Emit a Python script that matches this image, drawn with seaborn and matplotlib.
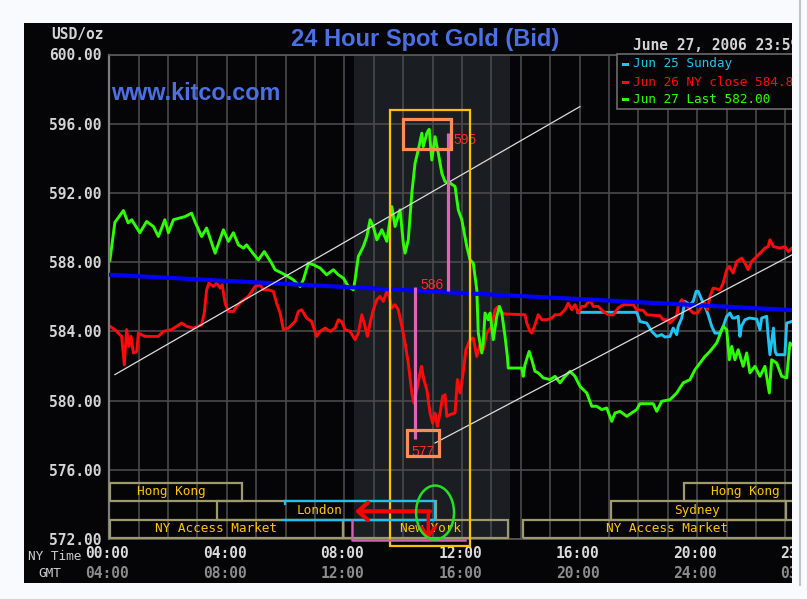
import numpy as np
import pandas as pd
import matplotlib
matplotlib.use("Agg")
import matplotlib.pyplot as plt
import matplotlib.transforms as mtrans
from matplotlib.patches import Rectangle, Ellipse
from matplotlib.lines import Line2D
import seaborn as sns

# ---------------- data (NY time in hours, price in USD/oz) ----------------
green_h = [0.02,0.19,0.48,0.64,0.76,1.04,1.27,1.50,1.67,1.89,
           2.01,2.18,2.57,2.80,2.91,3.14,3.31,3.60,3.88,4.05,
           4.22,4.39,4.56,4.67,4.84,5.07,5.27,5.52,5.64,5.98,
           6.26,6.49,6.60,6.77,6.94,7.17,7.39,7.62,7.79,7.96,
           8.13,8.30,8.36,8.47,8.64,8.76,8.87,8.98,9.10,9.27,
           9.44,9.61,9.72,9.89,10.00,10.06,10.17,10.29,10.40,10.51,
           10.63,10.68,10.80,10.88,10.97,11.08,11.19,11.31,11.42,11.59,
           11.76,11.87,11.99,12.16,12.27,12.38,12.50,12.55,12.67,12.72,
           12.78,12.89,12.95,13.06,13.18,13.27,13.35,13.46,13.54,13.57,
           14.03,14.08,14.14,14.28,14.37,14.48,14.59,14.76,14.99,15.16,
           15.33,15.50,15.67,15.84,16.01,16.24,16.41,16.58,16.75,16.92,
           17.09,17.20,17.37,17.60,17.94,18.05,18.50,18.62,18.79,19.07,
           19.30,19.52,19.75,19.92,20.09,20.26,20.43,20.66,20.88,21.00,
           21.09,21.17,21.28,21.39,21.56,21.68,21.79,21.96,22.13,22.30,
           22.45,22.53,22.70,22.87,23.04,23.15,23.40]
green_p = [588.1,590.3,590.98,590.27,590.45,589.7,590.35,590.06,589.48,590.45,
           589.7,590.45,590.63,590.83,590.35,589.48,589.97,588.52,589.87,589.2,
           589.7,589.0,588.81,589.0,588.61,588.13,588.61,587.94,587.56,587.27,
           586.98,586.59,586.98,587.94,587.85,587.66,587.27,587.56,587.27,587.08,
           586.59,586.4,586.98,588.33,588.9,589.48,590.45,590.06,589.29,589.87,
           589.2,591.21,590.06,591.02,589.1,588.52,589.29,591.99,593.72,594.49,
           595.45,594.68,595.45,595.68,593.9,595.25,594.3,593.14,592.66,592.57,
           592.37,591.02,590.45,588.9,588.13,587.94,586.4,583.9,582.75,583.33,
           585.06,584.67,585.06,583.52,584.87,585.44,585.06,583.71,582.55,581.88,
           581.88,581.4,582.07,582.84,582.36,581.69,581.6,581.31,581.21,581.4,
           581.02,581.4,581.69,581.4,580.82,580.44,579.67,579.67,579.48,579.57,
           578.8,579.28,579.38,579.09,579.48,579.82,579.82,579.38,579.96,580.05,
           580.44,581.02,581.21,581.78,582.17,582.55,582.84,583.33,584.29,584.1,
           582.36,583.13,582.36,582.94,581.98,582.75,581.6,581.98,581.4,581.98,
           580.44,582.36,582.17,581.4,581.31,583.33,582.9]

red_h = [0.02,0.19,0.31,0.42,0.51,0.59,0.67,0.74,0.82,0.93,
         0.99,1.21,1.67,1.84,2.12,2.29,2.46,2.63,2.86,3.14,
         3.23,3.31,3.39,3.54,3.65,3.77,3.84,3.94,4.05,4.22,
         4.33,4.50,4.73,4.96,5.13,5.24,5.41,5.58,5.69,5.81,
         5.92,6.09,6.32,6.43,6.54,6.71,6.88,7.05,7.17,7.34,
         7.51,7.68,7.79,7.90,8.02,8.19,8.36,8.47,8.59,8.67,
         8.78,8.87,8.98,9.10,9.21,9.32,9.44,9.52,9.61,9.72,
         9.83,9.95,10.06,10.17,10.29,10.36,10.46,10.57,10.62,10.70,
         10.80,10.91,11.00,11.08,11.16,11.25,11.34,11.42,11.48,11.59,
         11.76,11.84,11.93,12.02,12.13,12.27,12.38,12.50,12.61,12.72,
         12.84,13.01,13.12,13.23,13.35,13.49,14.14,14.20,14.31,14.37,
         14.48,14.59,14.71,14.88,15.05,15.16,15.33,15.50,15.61,15.73,
         15.84,15.95,16.07,16.18,16.35,16.46,16.63,16.80,16.97,17.14,
         17.31,17.48,17.82,17.94,18.16,18.28,18.73,18.84,19.01,19.07,
         19.18,19.30,19.35,19.47,19.58,19.75,19.86,20.00,20.12,20.26,
         20.34,20.43,20.54,20.77,20.88,21.00,21.09,21.22,21.34,21.51,
         21.62,21.73,21.85,22.02,22.19,22.30,22.41,22.47,22.59,22.81,
         22.98,23.10,23.21,23.40]
red_p = [584.29,584.1,583.9,583.71,582.07,584.1,583.13,583.71,582.75,582.84,
         583.9,583.71,583.71,584.0,584.1,584.29,584.48,584.29,584.19,584.38,
         585.06,586.4,586.79,586.59,586.79,586.5,586.69,585.63,585.15,585.15,
         585.44,585.73,586.02,586.59,586.69,586.4,586.4,586.31,585.63,585.06,
         584.1,584.19,584.57,585.15,585.25,584.77,584.57,583.71,584.0,584.19,
         584.0,584.19,584.67,584.57,584.1,584.0,583.52,583.9,584.96,584.48,
         583.71,584.48,585.25,585.83,586.02,585.73,586.31,586.02,585.35,585.54,
         585.25,584.29,583.33,582.17,580.44,579.86,580.63,581.6,581.98,581.21,
         580.63,579.28,578.7,579.28,578.51,579.28,580.25,580.34,579.09,579.19,
         579.28,581.21,580.44,581.4,582.94,583.52,583.61,582.55,583.23,582.94,
         583.9,584.29,585.25,585.44,585.06,585.0,584.96,584.48,584.0,583.9,
         584.38,584.96,584.67,584.67,584.77,584.96,584.96,585.25,585.63,585.25,
         585.54,585.06,585.44,585.44,585.83,585.44,585.44,585.15,584.96,584.96,
         585.35,585.54,585.54,585.25,585.21,584.96,584.9,584.67,584.67,584.48,
         584.67,584.9,585.44,585.83,585.63,585.25,585.06,585.06,585.35,585.63,
         585.25,586.02,586.5,586.4,586.79,587.56,587.75,587.37,588.04,588.23,
         587.94,587.56,588.04,588.33,588.61,588.81,588.9,589.29,588.9,588.81,
         588.9,588.61,588.81,588.8]

cyan_h = [15.94,17.03,17.94,18.05,18.28,18.45,18.62,18.79,18.90,19.07,
          19.18,19.30,19.35,19.47,19.58,19.75,19.86,19.96,20.03,20.15,
          20.26,20.37,20.49,20.60,20.77,20.88,21.00,21.11,21.20,21.28,
          21.39,21.45,21.50,21.62,21.77,22.02,22.13,22.19,22.36,22.41,
          22.47,22.59,22.65,22.70,22.98,23.04,23.21,23.40]
cyan_p = [585.1,585.1,585.1,584.57,584.48,584.0,583.71,583.81,583.67,583.71,
          584.19,583.81,584.29,584.77,585.73,585.54,585.73,586.31,586.31,585.83,
          585.44,584.96,584.29,583.9,583.9,584.29,584.87,585.06,584.77,584.77,
          584.87,583.71,584.29,584.67,584.77,584.71,584.1,584.77,584.87,583.71,
          582.65,584.19,582.84,582.65,582.65,584.48,584.57,584.6]

blue_h = [0.0, 24.0]
blue_p = [587.27, 585.16]

series_labels = ["Jun 25 Sunday", "Jun 26 NY close 584.80", "Jun 27 Last 582.00"]

y_ticks = [572, 576, 580, 584, 588, 592, 596, 600]
ny_tick_hours = [0, 4, 8, 12, 16, 20]
ny_tick_labels = ["00:00", "04:00", "08:00", "12:00", "16:00", "20:00"]
gmt_tick_labels = ["04:00", "08:00", "12:00", "16:00", "20:00", "24:00"]

session_names = ["Hong Kong", "London", "NY Access Market", "New York",
                 "NY Access Market", "Sydney", "Hong Kong"]
session_start = [0.03, 3.65, 0.03, 7.96, 14.08, 17.06, 19.56]
session_end = [4.52, 11.1, 7.96, 13.57, 24.0, 23.02, 24.0]
session_row = [0, 1, 2, 2, 2, 1, 0]
session_label_h = [2.12, 7.15, 3.63, 10.94, 18.97, 19.98, 21.64]

# ---------------- figure ----------------
W, H = 807, 599
BG = '#f9fafe'
BLACK = '#050507'
fig = plt.figure(figsize=(W / 100, H / 100), dpi=100, facecolor=BG)

def fx(x):
    return x / W

def fy(y):
    return 1 - y / H

fig.add_artist(Rectangle((fx(24), fy(583)), (792 - 24) / W, (583 - 23) / H,
                         transform=fig.transFigure, facecolor=BLACK,
                         edgecolor='none', zorder=-10))

X0, PXH = 109.3, 29.4
ax = fig.add_axes([fx(X0), fy(539), 24 * PXH / W, (539 - 54.5) / H])
ax.set_facecolor(BLACK)

# shaded band
ax.axvspan(8.34, 13.63, color='#1a1d22', zorder=0.2, lw=0)

GREEN = '#2cff00'
RED = '#ff0a0a'
CYAN = '#1ec4f2'

sns.lineplot(x=cyan_h, y=cyan_p, ax=ax, color=CYAN, linewidth=2.1,
             estimator=None, sort=False, zorder=2)
sns.lineplot(x=red_h, y=red_p, ax=ax, color=RED, linewidth=2.1,
             estimator=None, sort=False, zorder=2.1)
sns.lineplot(x=green_h, y=green_p, ax=ax, color=GREEN, linewidth=2.1,
             estimator=None, sort=False, zorder=2.2)
sns.lineplot(x=blue_h, y=blue_p, ax=ax, color='#0000ff', linewidth=3.0,
             estimator=None, sort=False, zorder=3)

# trend channel lines (annotations)
ax.plot([0.19, 16.01], [581.5, 596.99], color='#dcdcdc', lw=0.9, zorder=4)
ax.plot([11.08, 24.0], [577.55, 589.12], color='#dcdcdc', lw=0.9, zorder=4)

ax.set_xlim(0, 24)
ax.set_ylim(572, 600)
ax.set_xlabel('')
ax.set_ylabel('')
ax.set_xticks(np.arange(0, 25, 1))
ax.tick_params(axis='x', length=0, labelbottom=False)
ax.set_yticks(y_ticks, labels=[f'{v:.2f}' for v in y_ticks],
              fontfamily='DejaVu Sans Mono', fontweight='bold',
              fontsize=10.5, color='#d4d4d4')
ax.tick_params(axis='y', length=0, pad=5.3)
ax.grid(True, color='#4a4a4a', linewidth=1.2)
ax.set_axisbelow(True)
for s in ['right']:
    ax.spines[s].set_visible(False)
ax.spines['left'].set_color('#7c7c7c')
ax.spines['left'].set_linewidth(1.6)
ax.spines['top'].set_color('#5a5a5a')
ax.spines['top'].set_linewidth(1.2)
ax.spines['bottom'].set_color('#5a5a5a')
ax.spines['bottom'].set_linewidth(1.2)

# market session bars
row_bounds = [(574.2, 575.25), (573.12, 574.2), (572.06, 573.12)]
for name, s, e, r, lh in zip(session_names, session_start, session_end,
                             session_row, session_label_h):
    lo, hi = row_bounds[r]
    ax.add_patch(Rectangle((s, lo), e - s, hi - lo, fill=False,
                           edgecolor='#9e9a6c', lw=1.6, zorder=5, clip_on=False))
    ax.text(lh, (lo + hi) / 2, name, ha='center', va='center',
            family='DejaVu Sans Mono', fontsize=9.2, color='#ffc400', zorder=5.5)

# ---------------- hand-drawn annotations ----------------
ax.add_patch(Rectangle((9.55, 571.62), 12.27 - 9.55, 596.80 - 571.62, fill=False,
                       edgecolor='#ffc000', lw=1.6, clip_on=False, zorder=8))
ax.add_patch(Rectangle((10.0, 594.54), 1.62, 1.74, fill=False,
                       edgecolor='#ff8c55', lw=2.3, clip_on=False, zorder=8))
ax.add_patch(Rectangle((10.14, 576.82), 1.06, 1.5, fill=False,
                       edgecolor='#ff8c55', lw=2.3, clip_on=False, zorder=8))
PINK = '#e064b6'
ax.plot([11.51, 11.51], [586.36, 595.47], color=PINK, lw=2.3,
        solid_capstyle='butt', zorder=7)
ax.plot([10.41, 10.41], [577.78, 586.58], color=PINK, lw=2.3,
        solid_capstyle='butt', zorder=7)
for t, xh, yp in [("595", 12.10, 595.03), ("586", 10.98, 586.69), ("577", 10.67, 577.05)]:
    ax.text(xh, yp, t, ha='center', va='center', family='Liberation Sans',
            fontsize=10, color='#ff2a2a', zorder=7.5)

# cyan London bracket
CY2 = '#20c0f0'
ax.plot([5.98, 11.08, 11.08, 5.92], [574.22, 574.22, 573.12, 573.12],
        color=CY2, lw=1.6, clip_on=False, zorder=8)
ax.plot([5.98, 5.98], [574.22, 574.05], color=CY2, lw=1.6, clip_on=False, zorder=8)
# pink L
ax.plot([8.27, 8.27, 12.10], [573.12, 571.97, 571.97], color='#d060b0', lw=1.8,
        clip_on=False, zorder=8)
# red arrows
ax.annotate('', xy=(8.36, 573.6), xytext=(10.91, 573.6),
            arrowprops=dict(arrowstyle='->,head_length=0.5,head_width=0.45',
                            color='#ff0000', lw=3, shrinkA=0, shrinkB=0,
                            mutation_scale=14),
            annotation_clip=False, zorder=9)
ax.annotate('', xy=(10.85, 571.95), xytext=(10.85, 573.45),
            arrowprops=dict(arrowstyle='->,head_length=0.5,head_width=0.35',
                            color='#ff0000', lw=2.5, shrinkA=0, shrinkB=0,
                            mutation_scale=14),
            annotation_clip=False, zorder=9)
ax.add_patch(Ellipse((11.08, 573.53), 1.29, 3.12, fill=False, edgecolor='#22e022',
                     lw=1.8, clip_on=False, zorder=9))

# ---------------- x tick labels (two rows) ----------------
blend = mtrans.blended_transform_factory(ax.transData, fig.transFigure)
for h, a, b in zip(ny_tick_hours, ny_tick_labels, gmt_tick_labels):
    ax.text(h - 0.07, fy(553.8), a, transform=blend, ha='center', va='center',
            family='DejaVu Sans Mono', fontweight='bold', fontsize=10.5,
            color='#dadada', clip_on=False)
    ax.text(h - 0.07, fy(573.5), b, transform=blend, ha='center', va='center',
            family='DejaVu Sans Mono', fontweight='bold', fontsize=10.5,
            color='#8c8c8c', clip_on=False)
ax.text(22.81, fy(553.8), "23:59", transform=blend, ha='left', va='center',
        family='DejaVu Sans Mono', fontweight='bold', fontsize=10.5,
        color='#dadada', clip_on=False)
ax.text(22.81, fy(573.5), "03:59", transform=blend, ha='left', va='center',
        family='DejaVu Sans Mono', fontweight='bold', fontsize=10.5,
        color='#8c8c8c', clip_on=False)

fig.text(fx(81.7), fy(556), 'NY Time', ha='right', va='center',
         family='DejaVu Sans Mono', fontsize=9.2, color='#cccccc')
fig.text(fx(61), fy(573.5), 'GMT', ha='right', va='center',
         family='DejaVu Sans Mono', fontsize=9.2, color='#cccccc')

# ---------------- header texts ----------------
fig.text(fx(103.5), fy(34.7), 'USD/oz', ha='right', va='center',
         family='DejaVu Sans Mono', fontweight='bold', fontsize=10.5, color='#d4d4d4')
fig.text(fx(425), fy(46.3), '24 Hour Spot Gold (Bid)', ha='center', va='baseline',
         family='Liberation Sans', fontweight='bold', fontsize=17, color='#4a70e6')
fig.text(fx(111), fy(100), 'www.kitco.com', ha='left', va='baseline',
         family='Liberation Sans', fontweight='bold', fontsize=16.8, color='#4a70e6',
         zorder=6)
fig.text(fx(633), fy(50), 'June 27, 2006 23:59', ha='left', va='baseline',
         family='DejaVu Sans Mono', fontweight='bold', fontsize=10.5, color='#d4d4d4')

# ---------------- legend box ----------------
fig.add_artist(Rectangle((fx(617), fy(109)), (805 - 617) / W, (109 - 54.3) / H,
                         transform=fig.transFigure, facecolor=BLACK,
                         edgecolor='#6a6a6a', lw=1.2, zorder=5))
for lab, col, yc in zip(series_labels, [CYAN, RED, GREEN], [64, 82, 99.5]):
    fig.add_artist(Rectangle((fx(622), fy(yc + 1.5)), 7 / W, 3 / H,
                             transform=fig.transFigure, facecolor=col,
                             edgecolor='none', zorder=6))
    fig.text(fx(633), fy(yc), lab, ha='left', va='center',
             family='DejaVu Sans Mono', fontsize=9.2, color=col, zorder=6)

# ---------------- right cut-off strip ----------------
fig.add_artist(Rectangle((fx(792), 0), 20 / W, 1, transform=fig.transFigure,
                         facecolor=BG, edgecolor='none', zorder=50))
fig.add_artist(Line2D([fx(800), fx(800)], [fy(585), 1], transform=fig.transFigure,
                      color='#c4c4c4', lw=1.5, zorder=51))

fig.savefig('out.png', dpi=100, facecolor=BG)
